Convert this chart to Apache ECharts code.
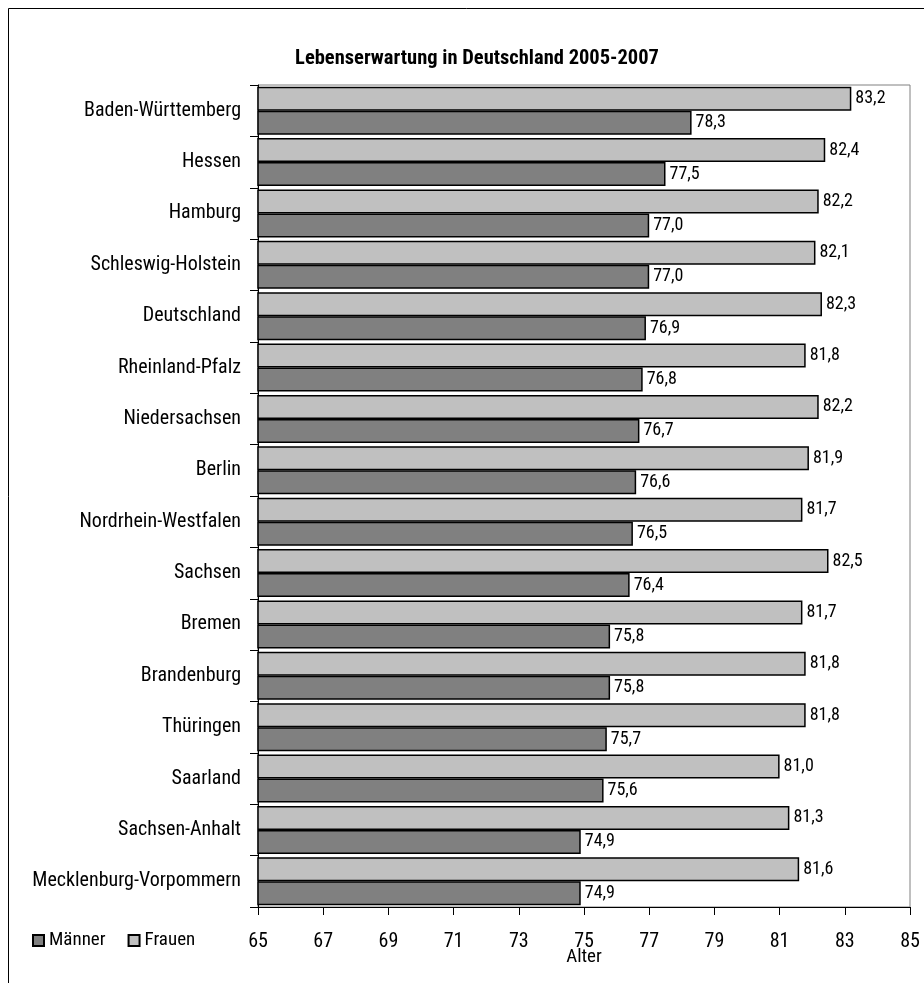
<!DOCTYPE html>
<html><head><meta charset="utf-8">
<script src="https://cdn.jsdelivr.net/npm/echarts@6/dist/echarts.min.js"></script>
<style>html,body{margin:0;padding:0;background:#fff}#c{width:924px;height:983px}</style>
</head><body><div id="c"></div>
<script>
const categories = ["Baden-Württemberg","Hessen","Hamburg","Schleswig-Holstein","Deutschland","Rheinland-Pfalz","Niedersachsen","Berlin","Nordrhein-Westfalen","Sachsen","Bremen","Brandenburg","Thüringen","Saarland","Sachsen-Anhalt","Mecklenburg-Vorpommern"];
const frauen = [83.2,82.4,82.2,82.1,82.3,81.8,82.2,81.9,81.7,82.5,81.7,81.8,81.8,81.0,81.3,81.6];
const maenner = [78.3,77.5,77.0,77.0,76.9,76.8,76.7,76.6,76.5,76.4,75.8,75.8,75.7,75.6,74.9,74.9];
const titleText = "Lebenserwartung in Deutschland 2005-2007";
const FONT = "'Roboto Condensed','Liberation Sans Narrow','Arial Narrow',sans-serif";
const fmt = p => p.value.toFixed(1).replace('.', ',');
const chart = echarts.init(document.getElementById('c'), null, {renderer:'canvas'});
chart.setOption({
  animation:false,
  textStyle:{fontFamily:FONT},
  title:{text:titleText,left:472,top:43,textAlign:'center',textStyle:{fontFamily:FONT,fontSize:20.5,fontWeight:'bold',color:'#000'}},
  graphic:[{type:'rect',shape:{x:8.5,y:8.5,width:1000,height:1000},style:{fill:'none',stroke:'#000',lineWidth:1},z:-1}],
  legend:{data:['Männer','Frauen'],left:27,top:926,itemWidth:11,itemHeight:11,itemGap:22,icon:'rect',
    textStyle:{fontFamily:FONT,fontSize:19,color:'#000'}},
  grid:{left:258,right:14,top:85,bottom:76,show:true,borderColor:'#808080',borderWidth:1,containLabel:false},
  xAxis:{type:'value',min:65,max:85,interval:2,
    name:'Alter',nameLocation:'middle',nameGap:41,nameMoveOverlap:false,nameTextStyle:{fontFamily:FONT,fontSize:19,color:'#000'},
    axisLine:{show:true,lineStyle:{color:'#000',width:1}},
    axisTick:{show:true,length:8,lineStyle:{color:'#000'}},
    axisLabel:{fontFamily:FONT,fontSize:20,color:'#000',margin:25},
    splitLine:{show:false}},
  yAxis:{type:'category',data:categories,inverse:true,
    axisLine:{show:true,lineStyle:{color:'#000',width:1}},
    axisTick:{show:true,length:8,lineStyle:{color:'#000'}},
    axisLabel:{fontFamily:FONT,fontSize:20,color:'#000',margin:17}},
  series:[
    {name:'Frauen',type:'bar',data:frauen,barWidth:24,barGap:'0%',
      itemStyle:{color:'#c0c0c0',borderColor:'#000',borderWidth:1.5},
      label:{show:true,position:'right',distance:4,formatter:fmt,fontFamily:FONT,fontSize:18,color:'#000'}},
    {name:'Männer',type:'bar',data:maenner,barWidth:24,barGap:'0%',
      itemStyle:{color:'#808080',borderColor:'#000',borderWidth:1.5},
      label:{show:true,position:'right',distance:4,formatter:fmt,fontFamily:FONT,fontSize:18,color:'#000'}}
  ]
});
</script></body></html>
